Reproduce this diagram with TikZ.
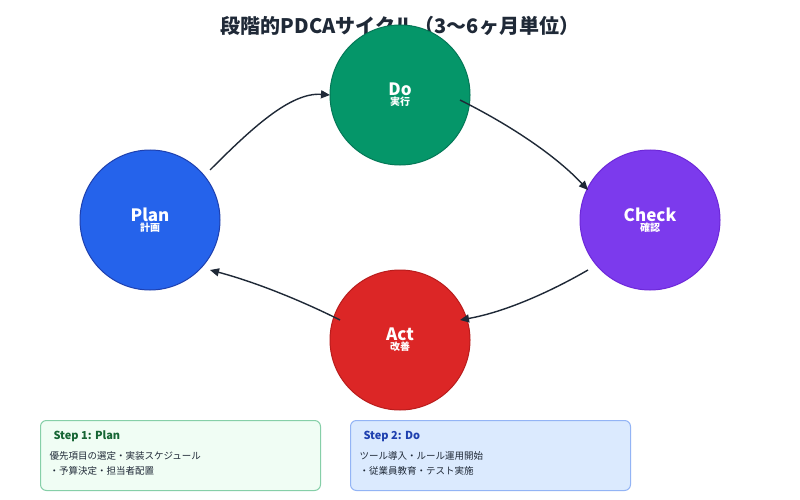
\documentclass[tikz,border=0pt]{standalone}
\usepackage{fontspec}
\setmainfont{Noto Sans CJK JP}
\usetikzlibrary{arrows.meta}
\definecolor{ink}{HTML}{1F2937}
\definecolor{gF}{HTML}{059669}\definecolor{gD}{HTML}{047857}
\definecolor{bF}{HTML}{2563EB}\definecolor{bD}{HTML}{1E40AF}
\definecolor{pF}{HTML}{7C3AED}\definecolor{pD}{HTML}{6D28D9}
\definecolor{rF}{HTML}{DC2626}\definecolor{rD}{HTML}{B91C1C}
\definecolor{gBox}{HTML}{F0FDF4}\definecolor{gBd}{HTML}{86CFA8}\definecolor{gT}{HTML}{166534}
\definecolor{bBox}{HTML}{DBEAFE}\definecolor{bBd}{HTML}{93B4F5}
\begin{document}
\begin{tikzpicture}[x=1pt,y=-1pt,
  circ/.style={circle,minimum size=140pt,inner sep=0pt,line width=1pt,text=white,align=center},
  arr/.style={draw=ink,line width=1.4pt,-{Triangle[length=9pt,width=8pt]}},
  box/.style={rounded corners=6pt,line width=1pt,minimum width=280pt,minimum height=70pt,anchor=north west}]
\useasboundingbox[fill=white] (0,0) rectangle (800,500);
\node[text=ink,font=\bfseries\fontsize{20}{24}\selectfont] (title) at (400,26) {段階的PDCAサイクル（3〜6ヶ月単位）};
\node[circ,fill=gF,draw=gD] (do) at (400,95) {{\bfseries\fontsize{17}{20}\selectfont Do}\\[-2pt]{\bfseries\fontsize{10}{12}\selectfont 実行}};
\node[circ,fill=bF,draw=bD] (plan) at (150,220) {{\bfseries\fontsize{17}{20}\selectfont Plan}\\[-2pt]{\bfseries\fontsize{10}{12}\selectfont 計画}};
\node[circ,fill=pF,draw=pD] (check) at (650,220) {{\bfseries\fontsize{17}{20}\selectfont Check}\\[-2pt]{\bfseries\fontsize{10}{12}\selectfont 確認}};
\node[circ,fill=rF,draw=rD] (act) at (400,340) {{\bfseries\fontsize{17}{20}\selectfont Act}\\[-2pt]{\bfseries\fontsize{10}{12}\selectfont 改善}};
\coordinate (p1) at (210,170); \coordinate (d1) at (330,95);
\coordinate (d2) at (460,100); \coordinate (c1) at (588,190);
\coordinate (c2) at (588,270); \coordinate (a1) at (460,320);
\coordinate (a2) at (340,320); \coordinate (p2) at (210,270);
\draw[arr] (p1) .. controls (250,130) and (290,92) .. (d1);
\draw[arr] (d2) .. controls (510,125) and (555,155) .. (c1);
\draw[arr] (c2) .. controls (550,292) and (505,312) .. (a1);
\draw[arr] (a2) .. controls (300,300) and (255,282) .. (p2);
\node[box,fill=gBox,draw=gBd] (b1) at (40,420) {};
\node[anchor=west,text=gT,font=\bfseries\fontsize{11}{13}\selectfont] (b1t) at (50,436) {Step 1: Plan};
\node[anchor=north west,text=ink,align=left,font=\fontsize{9.5}{15}\selectfont] (b1b) at (46,448) {優先項目の選定・実装スケジュール\\・予算決定・担当者配置};
\node[box,fill=bBox,draw=bBd] (b2) at (350,420) {};
\node[anchor=west,text=bD,font=\bfseries\fontsize{11}{13}\selectfont] (b2t) at (360,436) {Step 2: Do};
\node[anchor=north west,text=ink,align=left,font=\fontsize{9.5}{15}\selectfont] (b2b) at (356,448) {ツール導入・ルール運用開始\\・従業員教育・テスト実施};
\end{tikzpicture}
\end{document}
